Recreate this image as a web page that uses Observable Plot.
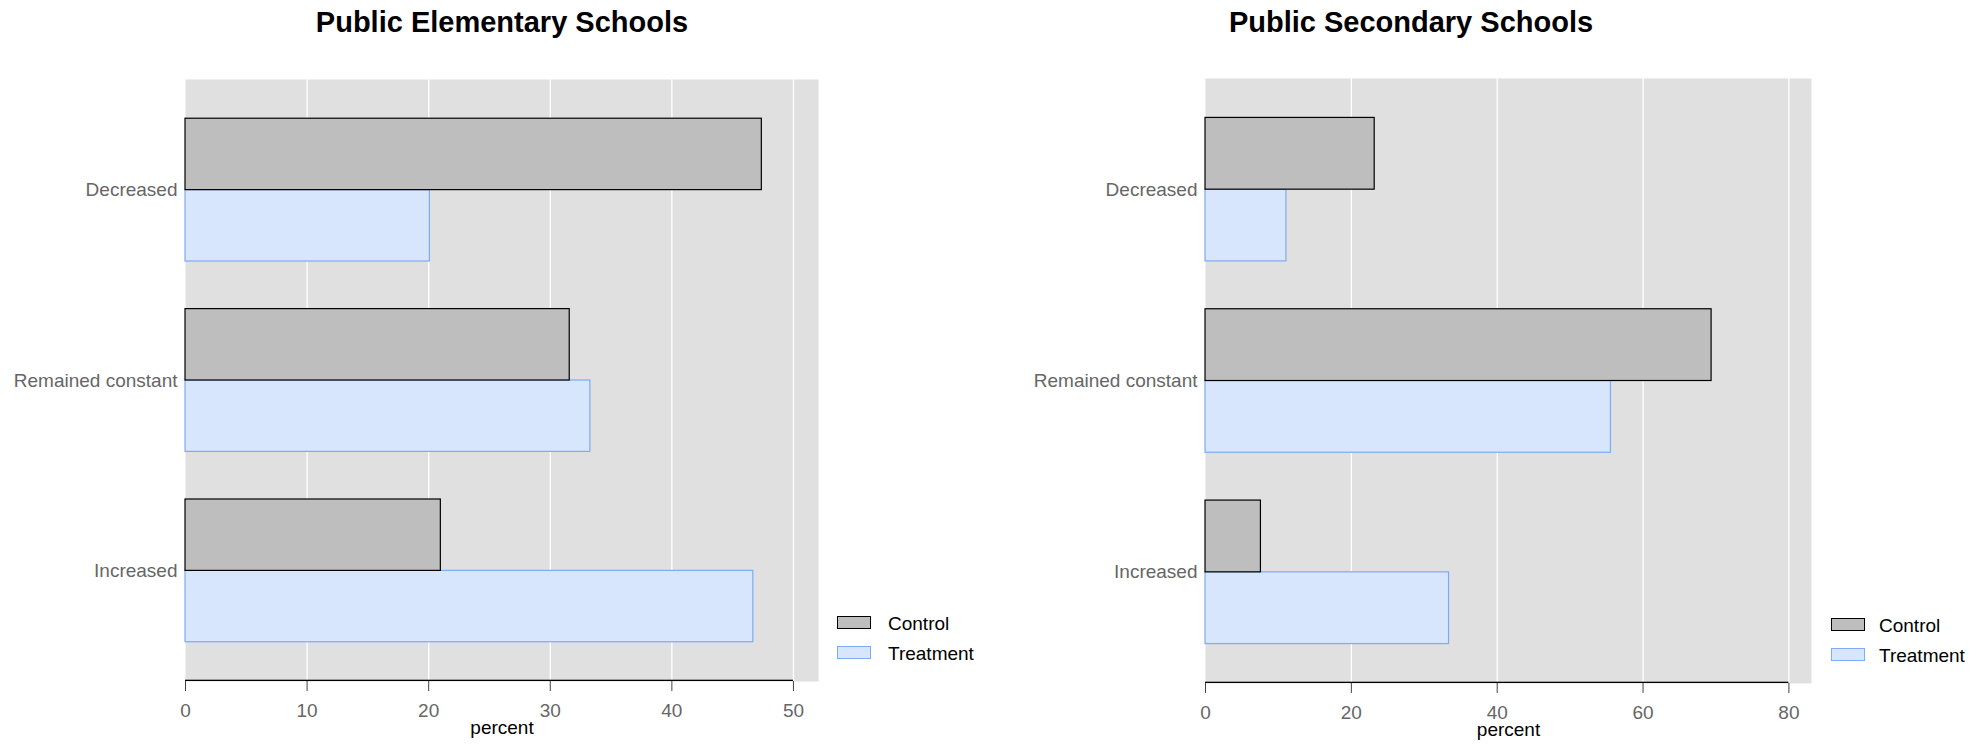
<!DOCTYPE html>
<html>
<head>
<meta charset="utf-8">
<script src="https://cdn.jsdelivr.net/npm/d3@7"></script>
<script src="https://cdn.jsdelivr.net/npm/@observablehq/plot@0.6"></script>
<style>
  html, body { margin: 0; padding: 0; background: #fff; }
  #root { position: relative; width: 1980px; height: 744px; overflow: hidden; font-family: "Liberation Sans", Arial, sans-serif; }
  .panel { position: absolute; top: 0; }
  .title { position: absolute; top: 8px; font-size: 29px; font-weight: bold; line-height: 29px; color: #000; transform: translateX(-50%); white-space: nowrap; }
  .lbox { position: absolute; width: 34px; height: 13px; box-sizing: border-box; }
  .ltext { position: absolute; font-size: 19px; line-height: 19px; color: #000; white-space: nowrap; }
</style>
</head>
<body>
<div id="root"></div>
<script>
// ---- data ----
const categories = ["Decreased", "Remained constant", "Increased"];
const groups = ["Control", "Treatment"];

const elemTitle = "Public Elementary Schools";
const elemControl = [47.4, 31.6, 21.0];
const elemTreatment = [20.1, 33.3, 46.7];
const elemTicks = [0, 10, 20, 30, 40, 50];
const elemMax = 52.06;

const secTitle = "Public Secondary Schools";
const secControl = [23.2, 69.4, 7.6];
const secTreatment = [11.1, 55.6, 33.4];
const secTicks = [0, 20, 40, 60, 80];
const secMax = 83.1;

const xLabel = "percent";

// ---- styles ----
const bgColor = "#e0e0e0";
const controlFill = "#bebebe", controlStroke = "#000000";
const treatFill = "#d7e5fd", treatStroke = "#7eaaf6";
const tickTextColor = "#666666";
const paddingInner = 0.25, paddingOuter = 0.206;

function makeChart({control, treatment, ticks, max, width, height, mt, mb, ml, mr}) {
  const rows = categories.map((c, i) => ({category: c, control: control[i], treatment: treatment[i]}));
  const plotH = height - mt - mb;
  const step = plotH / (categories.length - paddingInner + 2 * paddingOuter);
  const half = step * (1 - paddingInner) / 2;
  return Plot.plot({
    width, height,
    marginTop: mt, marginBottom: mb, marginLeft: ml, marginRight: mr,
    style: {fontFamily: "'Liberation Sans', Arial, sans-serif", fontSize: "19px", background: "transparent", overflow: "visible"},
    x: {domain: [0, max]},
    y: {domain: categories, paddingInner, paddingOuter, round: false},
    marks: [
      Plot.frame({fill: bgColor, stroke: null}),
      Plot.ruleX(ticks.filter(t => t > 0), {stroke: "#ffffff", strokeWidth: 1.3}),
      Plot.barX(rows, {y: "category", x: "treatment", fill: treatFill, stroke: treatStroke, strokeWidth: 1.2, insetTop: half}),
      Plot.barX(rows, {y: "category", x: "control", fill: controlFill, stroke: controlStroke, strokeWidth: 1.2, insetBottom: half}),
      Plot.barX([ticks[ticks.length - 1]], {x1: ticks[0], x2: d => d, fill: "#000", insetTop: plotH - 1.3}),
      Plot.axisX({ticks, tickSize: 10, tickPadding: 12, stroke: "#444", color: tickTextColor, fontSize: 19, label: null}),
      Plot.axisY({tickSize: 0, tickPadding: 8, color: tickTextColor, fontSize: 19, label: null}),
      Plot.text([xLabel], {frameAnchor: "bottom", lineAnchor: "top", dy: 39, fontSize: 19, fill: "#000"})
    ]
  });
}

const root = document.getElementById("root");

function addPanel(left, chart) {
  const d = document.createElement("div");
  d.className = "panel";
  d.style.left = left + "px";
  d.appendChild(chart);
  root.appendChild(d);
}

function addTitle(text, cx) {
  const t = document.createElement("div");
  t.className = "title";
  t.style.left = cx + "px";
  t.textContent = text;
  root.appendChild(t);
}

function addLegend(boxX, textX, tops) {
  const fills = [controlFill, treatFill], strokes = [controlStroke, treatStroke];
  groups.forEach((g, i) => {
    const b = document.createElement("div");
    b.className = "lbox";
    b.style.left = boxX + "px";
    b.style.top = (tops[i] + 2) + "px";
    b.style.background = fills[i];
    b.style.border = `1.3px solid ${strokes[i]}`;
    root.appendChild(b);
    const t = document.createElement("div");
    t.className = "ltext";
    t.style.left = textX + "px";
    t.style.top = tops[i] + "px";
    t.textContent = g;
    root.appendChild(t);
  });
}

addPanel(0, makeChart({control: elemControl, treatment: elemTreatment, ticks: elemTicks, max: elemMax,
  width: 990, height: 744, mt: 79, mb: 63, ml: 185, mr: 172}));
addPanel(990, makeChart({control: secControl, treatment: secTreatment, ticks: secTicks, max: secMax,
  width: 990, height: 744, mt: 78, mb: 61, ml: 215, mr: 169}));

addTitle(elemTitle, 502);
addTitle(secTitle, 1411);

addLegend(837, 888, [614, 644]);
addLegend(1831, 1879, [616, 646]);
</script>
</body>
</html>
